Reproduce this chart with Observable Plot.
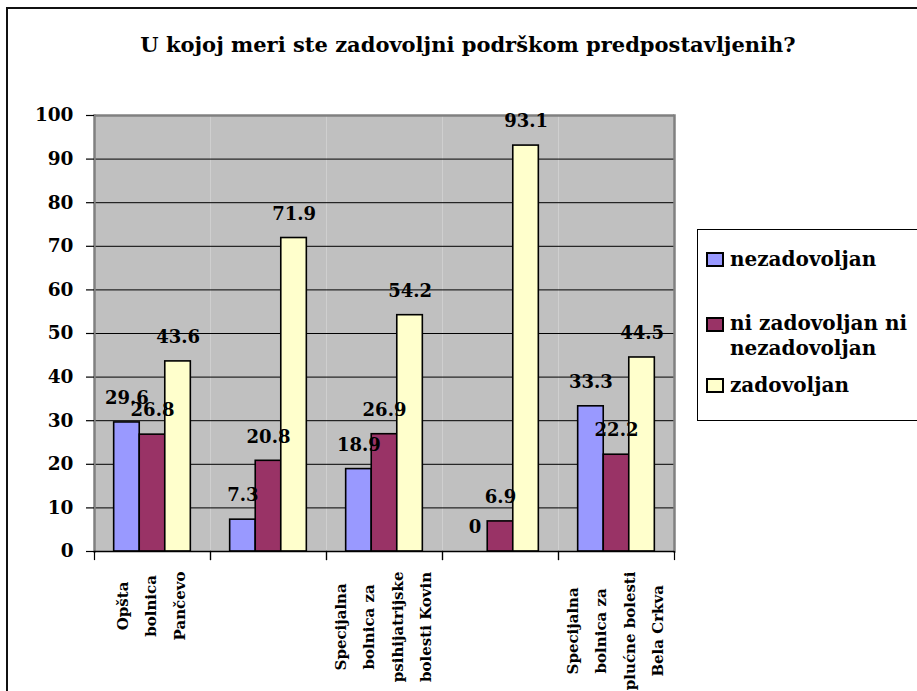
<!DOCTYPE html>
<html><head><meta charset="utf-8">
<script src="https://cdn.jsdelivr.net/npm/d3@7"></script>
<script src="https://cdn.jsdelivr.net/npm/@observablehq/plot@0.6"></script>
<style>
html,body{margin:0;padding:0;background:#fff;}
#wrap{position:relative;width:917px;height:691px;overflow:hidden;font-family:"DejaVu Serif",serif;font-weight:bold;color:#000;}
#border{position:absolute;left:6px;top:7px;width:1000px;height:1000px;border-top:2px solid #111;border-left:2px solid #111;}
#title{position:absolute;left:0;width:936px;top:35px;text-align:center;font-size:21px;line-height:20px;white-space:nowrap;}
#chart{position:absolute;left:0;top:100px;}
#legend{position:absolute;left:697px;top:229px;width:260px;height:190px;border:1px solid #000;background:#fff;}
.sw{position:absolute;left:8px;width:18px;height:15px;box-sizing:border-box;border:2px solid #000;}
.lt{position:absolute;left:32px;font-size:20px;white-space:nowrap;}
</style></head>
<body>
<div id="wrap">
  <div id="border"></div>
  <div id="title">U kojoj meri ste zadovoljni podrškom predpostavljenih?</div>
  <div id="chart"></div>
  <div id="legend"></div>
</div>
<script>
const categories = [
  "Opšta bolnica Pančevo",
  "Bolnica 2",
  "Specijalna bolnica za psihijatrijske bolesti Kovin",
  "Bolnica 4",
  "Specijalna bolnica za plućne bolesti Bela Crkva"
];
const tickLabels = [
  "Opšta\nbolnica\nPančevo",
  "",
  "Specijalna\nbolnica za\npsihijatrijske\nbolesti Kovin",
  "",
  "Specijalna\nbolnica za\nplućne bolesti\nBela Crkva"
];
const seriesNames = ["nezadovoljan", "ni zadovoljan ni nezadovoljan", "zadovoljan"];
const nezadovoljan = [29.6, 7.3, 18.9, 0, 33.3];
const niNi = [26.8, 20.8, 26.9, 6.9, 22.2];
const zadovoljan = [43.6, 71.9, 54.2, 93.1, 44.5];
const seriesColors = ["#9999FF", "#993366", "#FFFFCC"];
const yTicks = [0, 10, 20, 30, 40, 50, 60, 70, 80, 90, 100];

const seriesValues = [nezadovoljan, niNi, zadovoljan];
const rows = categories.flatMap((c, i) =>
  seriesNames.map((s, j) => ({cat: c, series: s, value: seriesValues[j][i]})));

const W = 917, H = 591, mT = 15, mB = 140, mL = 92, mR = 241;
const plotH = H - mT - mB;
const labelSize = 15;

const ctx = document.createElement("canvas").getContext("2d");
ctx.font = `bold ${labelSize}px 'DejaVu Serif'`;
const maxW = s => Math.max(...s.split("\n").map(l => ctx.measureText(l).width));

const labelMarks = categories
  .map((c, i) => ({c, i}))
  .filter(({i}) => tickLabels[i] !== "")
  .map(({c, i}) => Plot.text([c], {
    fx: d => d,
    frameAnchor: "bottom",
    text: () => tickLabels[i],
    rotate: -90,
    textAnchor: "middle",
    lineAnchor: "middle",
    lineHeight: 1.87,
    fontSize: labelSize,
    fill: "#000",
    dx: -5,
    dy: 20 + maxW(tickLabels[i]) / 2
  }));

const chart = Plot.plot({
  width: W, height: H,
  marginTop: mT, marginBottom: mB, marginLeft: mL, marginRight: mR,
  style: {fontFamily: "DejaVu Serif", fontWeight: "bold", color: "#000", background: "transparent", overflow: "visible"},
  fx: {domain: categories, padding: 0, axis: null},
  x: {domain: seriesNames, paddingInner: 0, paddingOuter: 0.77, round: false, axis: null},
  y: {domain: [0, 100], axis: null},
  color: {domain: seriesNames, range: seriesColors},
  marks: [
    Plot.frame({fill: "#C0C0C0", stroke: null}),
    Plot.ruleY(yTicks.filter(v => v > 0 && v < 100), {stroke: "#000", strokeWidth: 1}),
    Plot.barY(rows, {fx: "cat", x: "series", y: "value", fill: "series", stroke: "#000", strokeWidth: 1.6}),
    Plot.ruleY([100], {stroke: "#808080", strokeWidth: 2.5}),
    Plot.frame({anchor: "left", fx: categories[0], stroke: "#808080", strokeWidth: 2.5}),
    Plot.frame({anchor: "right", fx: categories[categories.length - 1], stroke: "#808080", strokeWidth: 2.5}),
    Plot.ruleY([0], {stroke: "#000", strokeWidth: 1.5}),
    Plot.frame({anchor: "left", insetTop: plotH, insetBottom: -8, stroke: "#000", strokeWidth: 1.2}),
    Plot.frame({anchor: "right", insetTop: plotH, insetBottom: -8, stroke: "#000", strokeWidth: 1.2}),
    Plot.axisY({ticks: yTicks, label: null, tickSize: 8, tickPadding: 13, fontSize: 18.5, stroke: "#000", strokeWidth: 1.2, fill: "#000"}),
    Plot.text(rows, {fx: "cat", x: "series", y: "value", text: d => String(d.value), dy: -24, lineAnchor: "middle", fontSize: 18, fill: "#000"}),
    ...labelMarks
  ]
});
document.getElementById("chart").appendChild(chart);

// legend
const legend = document.getElementById("legend");
const legendPos = [{t: 19, s: 22, lh: 20}, {t: 81, s: 87, lh: 25}, {t: 145, s: 148, lh: 20}];
const legendText = ["nezadovoljan", "ni zadovoljan ni<br>nezadovoljan", "zadovoljan"];
seriesNames.forEach((s, j) => {
  const sw = document.createElement("div");
  sw.className = "sw";
  sw.style.top = legendPos[j].s + "px";
  sw.style.background = seriesColors[j];
  legend.appendChild(sw);
  const t = document.createElement("div");
  t.className = "lt";
  t.style.top = legendPos[j].t + "px";
  t.style.lineHeight = legendPos[j].lh + "px";
  t.innerHTML = legendText[j];
  legend.appendChild(t);
});
</script>
</body></html>
